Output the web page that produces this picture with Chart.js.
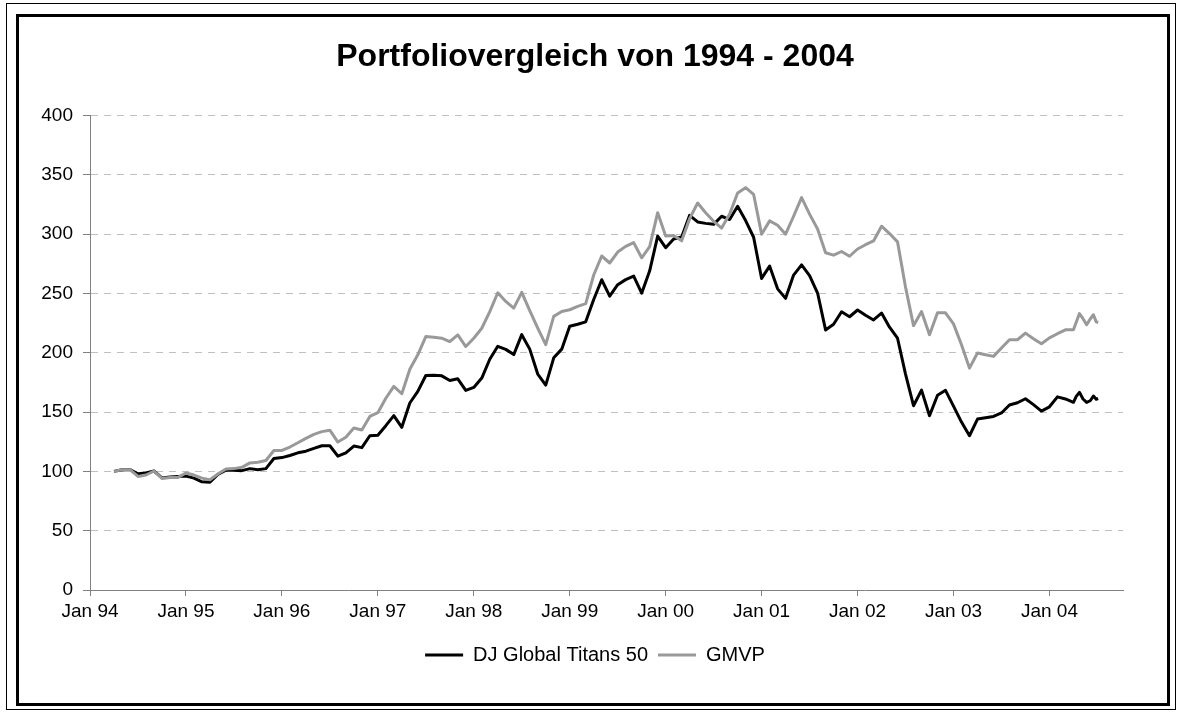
<!DOCTYPE html>
<html>
<head>
<meta charset="utf-8">
<title>Portfoliovergleich von 1994 - 2004</title>
<script src="https://cdn.jsdelivr.net/npm/chart.js@4.4.1/dist/chart.umd.min.js"></script>
<style>
  html, body { margin: 0; padding: 0; background: #fff; }
  #wrap { position: relative; width: 1178px; height: 712px; }
  .frame-outer { position: absolute; left: 6px; top: 3px; width: 1168px; height: 705px; border: 1px solid #000; }
  .frame-inner { position: absolute; left: 16px; top: 14px; width: 1148px; height: 686px; border: 3px solid #000; }
  canvas { position: absolute; left: 0; top: 0; }
</style>
</head>
<body>
<div id="wrap">
  <div class="frame-outer"></div>
  <div class="frame-inner"></div>
  <canvas id="portfolioChart" width="1178" height="712"></canvas>
</div>
<script>
// x runs in months counted from Jan 94 (= 0); monthly series start in Apr 94
const firstMonth = 3;
const xTickLabels = ['Jan 94', 'Jan 95', 'Jan 96', 'Jan 97', 'Jan 98', 'Jan 99',
  'Jan 00', 'Jan 01', 'Jan 02', 'Jan 03', 'Jan 04'];

// monthly values, Apr 94 - Apr 04
const djTitans = [
  100, 101.4, 101.4, 98, 98.6, 100.3, 94.5, 95.2, 95.7, 96,
  94.3, 91.2, 90.9, 97.4, 101, 101, 100.6, 102.3, 101.4, 102.3,
  110.8, 111.6, 113.4, 115.6, 117, 119.3, 121.6, 121.6, 112.8, 115.6,
  121.3, 120, 130, 130.5, 138.5, 147, 137.1, 157.6, 167.4, 180.8,
  181, 180.5, 176.6, 178, 168.2, 170.7, 178.6, 194.5, 205.4, 202.8,
  198.4, 215.2, 203, 182, 172.7, 195.7, 203, 222.3, 224, 226,
  244.8, 261.5, 247.7, 257.3, 261.6, 264.5, 250.2, 269, 298.3, 288.5,
  295.8, 297.5, 315.8, 310.2, 309, 308.2, 315, 312.2, 323.4, 311.4,
  297.3, 262.6, 273, 253.8, 245.8, 265.4, 274, 265, 250.3, 219.2,
  224, 234.5, 230.3, 236, 231.5, 227.6, 233.4, 221.5, 212.2, 182,
  155.3, 168.5, 146.9, 164.2, 168.3, 155, 141.5, 130, 144.1, 145.2,
  146.3, 149.2, 155.9, 157.8, 161.2, 156.2, 150.8, 154.4, 162.8, 161, 158.2
];
const gmvp = [
  100, 101.4, 101.4, 95.7, 96.9, 100.3, 94, 94.9, 94.9, 98.6,
  96.9, 94.3, 92.9, 97.7, 102, 102.3, 103.4, 107.1, 107.7, 109.1,
  117.6, 117.6, 120.5, 124.1, 127.8, 131.2, 133.5, 134.7, 124.7, 128.7,
  136.6, 134.9, 146.3, 149.4, 161.6, 171.6, 165.4, 186.1, 198.2, 213.6,
  213, 212.2, 209.4, 215, 205.2, 212.2, 220.6, 234.6, 250.5, 243.2,
  237.6, 250.8, 235.5, 220.8, 206.8, 230.6, 234.8, 236.2, 239, 241.3,
  265.5, 281.5, 275.6, 284.8, 289.6, 292.8, 280, 289.4, 318, 298.4,
  298.8, 294.3, 313, 326.2, 318, 310.7, 305, 316.8, 334.6, 339.1,
  333.5, 299.9, 311.1, 307.4, 299.9, 315, 330.7, 316.8, 304.2, 284.2,
  282.2, 285.3, 281.3, 287.4, 291, 294.2, 306.6, 300.4, 293.4, 255.3,
  222.8, 234.7, 215.1, 233.6, 233.6, 224.3, 206.7, 187, 199.7, 198.3,
  196.9, 203.9, 210.9, 210.9, 216.5, 211.8, 207.5, 212.5, 216, 219.3, 219.3
];

// weekly values at the end (Apr - Jul 04)
const tailMonths = [123.35, 123.75, 124.2, 124.65, 125.1, 125.5, 125.85, 126.1];
const djTail = [163.2, 166.6, 161, 158.1, 159.5, 163.5, 160.8, 161.3];
const gmvpTail = [225.6, 233, 228.7, 223.5, 228.4, 232, 226, 225.5];

function toPoints(monthly, tail) {
  const pts = monthly.map((v, i) => ({ x: firstMonth + i, y: v }));
  tail.forEach((v, i) => pts.push({ x: tailMonths[i], y: v }));
  return pts;
}

Chart.defaults.font.family = "'Liberation Sans', Arial, sans-serif";
Chart.defaults.color = '#000';

new Chart(document.getElementById('portfolioChart'), {
  type: 'line',
  data: {
    datasets: [{
      label: 'DJ Global Titans 50',
      data: toPoints(djTitans, djTail),
      borderColor: '#000000',
      backgroundColor: '#000000',
      borderWidth: 3,
      borderJoinStyle: 'round',
      pointRadius: 0,
      order: 1
    }, {
      label: 'GMVP',
      data: toPoints(gmvp, gmvpTail),
      borderColor: '#999999',
      backgroundColor: '#999999',
      borderWidth: 3,
      borderJoinStyle: 'round',
      pointRadius: 0,
      order: 0
    }]
  },
  options: {
    responsive: false,
    animation: false,
    events: [],
    layout: { padding: { top: 20, left: 20, right: 8, bottom: 37 } },
    plugins: {
      title: {
        display: true,
        text: 'Portfoliovergleich von 1994 - 2004',
        font: { size: 32, weight: 'bold' },
        padding: { top: 18, bottom: 39 }
      },
      legend: {
        position: 'bottom',
        labels: {
          usePointStyle: true,
          pointStyle: 'line',
          pointStyleWidth: 38,
          font: { size: 20 },
          padding: 10,
          sort: (a, b) => a.datasetIndex - b.datasetIndex
        }
      },
      tooltip: { enabled: false }
    },
    scales: {
      x: {
        type: 'linear',
        min: 0,
        max: 129.2,
        afterBuildTicks: function(axis) {
          axis.ticks = xTickLabels.map((l, i) => ({ value: i * 12 }));
        },
        afterFit: function(scale) { scale.height = 45; },
        ticks: {
          autoSkip: false,
          maxRotation: 0,
          padding: 4,
          font: { size: 19 },
          callback: function(value) { return xTickLabels[Math.round(value / 12)]; }
        },
        grid: {
          drawOnChartArea: false,
          tickLength: 6,
          color: '#808080',
          tickColor: '#808080'
        },
        border: { color: '#808080', width: 1 }
      },
      y: {
        min: 0,
        max: 400,
        afterFit: function(scale) { scale.width = 70; },
        ticks: {
          stepSize: 50,
          padding: 10,
          font: { size: 19 }
        },
        grid: {
          color: '#c0c0c0',
          tickLength: 7,
          tickColor: '#808080',
          tickBorderDash: []
        },
        border: { color: '#808080', width: 1, dash: [7, 6] }
      },
      // empty spacer on the right so title and legend sit centred on the frame
      yRight: {
        position: 'right',
        afterFit: function(scale) { scale.width = 47; },
        ticks: { display: false },
        grid: { display: false },
        border: { display: false }
      }
    }
  }
});
</script>
</body>
</html>
